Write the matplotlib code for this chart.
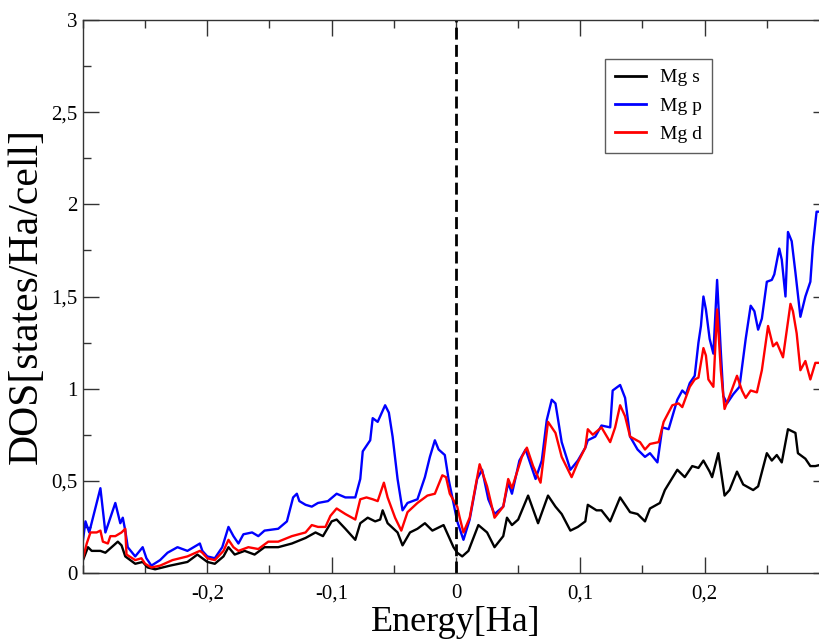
import numpy as np
import matplotlib
matplotlib.use('Agg')
import matplotlib.pyplot as plt
from matplotlib.ticker import MultipleLocator, FuncFormatter

plt.rcParams['font.family'] = ['Liberation Serif', 'DejaVu Serif']

# Mg s (black)
energy_s = [-0.300, -0.296, -0.293, -0.286, -0.282, -0.277, -0.272, -0.269, -0.266, -0.258,
            -0.252, -0.248, -0.242, -0.230, -0.216, -0.208, -0.204, -0.200, -0.194, -0.187,
            -0.183, -0.178, -0.170, -0.162, -0.154, -0.143, -0.132, -0.121, -0.113, -0.107,
            -0.100, -0.096, -0.089, -0.081, -0.077, -0.071, -0.065, -0.061, -0.059, -0.055,
            -0.047, -0.043, -0.037, -0.031, -0.025, -0.019, -0.010, -0.006, -0.002, 0.001,
            0.005, 0.010, 0.018, 0.025, 0.031, 0.038, 0.041, 0.045, 0.050, 0.058,
            0.066, 0.074, 0.080, 0.085, 0.092, 0.098, 0.104, 0.106, 0.113, 0.117,
            0.124, 0.132, 0.140, 0.146, 0.152, 0.156, 0.164, 0.168, 0.178, 0.184,
            0.190, 0.195, 0.199, 0.204, 0.206, 0.211, 0.216, 0.220, 0.226, 0.231,
            0.239, 0.243, 0.250, 0.254, 0.258, 0.262, 0.267, 0.273, 0.275, 0.281,
            0.285, 0.289, 0.295]
dos_s = [0.07, 0.14, 0.12, 0.12, 0.11, 0.14, 0.17, 0.15, 0.09, 0.05,
         0.06, 0.03, 0.02, 0.04, 0.06, 0.10, 0.08, 0.06, 0.05, 0.09,
         0.14, 0.10, 0.12, 0.10, 0.14, 0.14, 0.16, 0.19, 0.22, 0.20,
         0.28, 0.29, 0.24, 0.18, 0.27, 0.30, 0.28, 0.29, 0.34, 0.27,
         0.22, 0.15, 0.22, 0.24, 0.27, 0.23, 0.26, 0.20, 0.14, 0.11,
         0.09, 0.12, 0.26, 0.22, 0.14, 0.20, 0.30, 0.26, 0.29, 0.42,
         0.27, 0.42, 0.36, 0.32, 0.23, 0.25, 0.28, 0.37, 0.34, 0.34,
         0.28, 0.41, 0.33, 0.32, 0.28, 0.35, 0.38, 0.45, 0.56, 0.52,
         0.58, 0.57, 0.61, 0.55, 0.52, 0.65, 0.42, 0.45, 0.55, 0.48,
         0.45, 0.47, 0.65, 0.61, 0.64, 0.60, 0.78, 0.76, 0.65, 0.62,
         0.58, 0.58, 0.59]

# Mg p (blue)
energy_p = [-0.300, -0.298, -0.295, -0.286, -0.282, -0.274, -0.270, -0.268, -0.266, -0.264,
            -0.258, -0.252, -0.249, -0.245, -0.238, -0.232, -0.224, -0.216, -0.206, -0.204,
            -0.200, -0.194, -0.188, -0.183, -0.179, -0.175, -0.171, -0.164, -0.159, -0.154,
            -0.143, -0.136, -0.131, -0.128, -0.126, -0.121, -0.116, -0.111, -0.103, -0.096,
            -0.089, -0.081, -0.077, -0.075, -0.069, -0.067, -0.063, -0.057, -0.054, -0.051,
            -0.047, -0.043, -0.039, -0.031, -0.025, -0.021, -0.017, -0.014, -0.009, -0.006,
            -0.002, 0.001, 0.006, 0.011, 0.017, 0.021, 0.026, 0.031, 0.038, 0.042,
            0.045, 0.051, 0.056, 0.064, 0.069, 0.073, 0.077, 0.080, 0.085, 0.092,
            0.098, 0.104, 0.106, 0.112, 0.117, 0.124, 0.126, 0.132, 0.136, 0.140,
            0.146, 0.152, 0.156, 0.162, 0.166, 0.171, 0.178, 0.182, 0.185, 0.188,
            0.192, 0.195, 0.197, 0.199, 0.201, 0.204, 0.207, 0.210, 0.213, 0.215,
            0.218, 0.223, 0.228, 0.233, 0.237, 0.240, 0.243, 0.246, 0.250, 0.254,
            0.256, 0.260, 0.262, 0.265, 0.267, 0.270, 0.273, 0.277, 0.281, 0.285,
            0.287, 0.290, 0.295]
dos_p = [0.18, 0.28, 0.22, 0.46, 0.22, 0.38, 0.27, 0.30, 0.23, 0.14,
         0.09, 0.14, 0.08, 0.04, 0.07, 0.11, 0.14, 0.12, 0.16, 0.12,
         0.09, 0.08, 0.14, 0.25, 0.20, 0.16, 0.21, 0.22, 0.20, 0.23,
         0.24, 0.28, 0.41, 0.43, 0.39, 0.37, 0.36, 0.38, 0.39, 0.43,
         0.41, 0.41, 0.51, 0.66, 0.72, 0.84, 0.82, 0.91, 0.87, 0.74,
         0.51, 0.34, 0.38, 0.40, 0.52, 0.63, 0.72, 0.67, 0.64, 0.51,
         0.38, 0.28, 0.18, 0.29, 0.51, 0.56, 0.40, 0.32, 0.36, 0.49,
         0.43, 0.61, 0.67, 0.51, 0.61, 0.83, 0.94, 0.92, 0.71, 0.56,
         0.61, 0.68, 0.72, 0.74, 0.80, 0.79, 0.99, 1.02, 0.95, 0.74,
         0.67, 0.63, 0.65, 0.60, 0.79, 0.78, 0.94, 0.99, 0.97, 1.03,
         1.07, 1.25, 1.34, 1.50, 1.43, 1.27, 1.19, 1.59, 1.20, 0.96,
         0.92, 0.97, 1.01, 1.27, 1.45, 1.42, 1.32, 1.38, 1.58, 1.59,
         1.62, 1.76, 1.70, 1.50, 1.85, 1.80, 1.63, 1.39, 1.50, 1.58,
         1.77, 1.96, 1.96]

# Mg d (red)
energy_d = [-0.300, -0.297, -0.294, -0.289, -0.286, -0.284, -0.280, -0.278, -0.274, -0.269,
            -0.266, -0.265, -0.258, -0.253, -0.250, -0.245, -0.238, -0.228, -0.216, -0.206,
            -0.204, -0.200, -0.194, -0.187, -0.183, -0.179, -0.175, -0.167, -0.159, -0.151,
            -0.143, -0.132, -0.121, -0.116, -0.111, -0.105, -0.101, -0.096, -0.089, -0.081,
            -0.077, -0.072, -0.067, -0.063, -0.058, -0.055, -0.049, -0.044, -0.039, -0.031,
            -0.023, -0.017, -0.011, -0.008, -0.005, 0.001, 0.003, 0.006, 0.011, 0.019,
            0.025, 0.031, 0.038, 0.042, 0.045, 0.053, 0.057, 0.062, 0.068, 0.072,
            0.074, 0.080, 0.085, 0.093, 0.098, 0.104, 0.106, 0.110, 0.117, 0.124,
            0.128, 0.132, 0.136, 0.140, 0.148, 0.152, 0.156, 0.163, 0.167, 0.174,
            0.179, 0.182, 0.188, 0.192, 0.195, 0.197, 0.199, 0.201, 0.203, 0.207,
            0.210, 0.213, 0.216, 0.220, 0.226, 0.230, 0.233, 0.237, 0.242, 0.246,
            0.251, 0.255, 0.258, 0.263, 0.269, 0.271, 0.274, 0.277, 0.281, 0.285,
            0.289, 0.295]
dos_d = [0.08, 0.16, 0.22, 0.22, 0.23, 0.17, 0.16, 0.20, 0.20, 0.22,
         0.24, 0.10, 0.07, 0.08, 0.05, 0.03, 0.04, 0.07, 0.09, 0.12,
         0.11, 0.08, 0.07, 0.12, 0.18, 0.14, 0.12, 0.14, 0.13, 0.17,
         0.17, 0.20, 0.22, 0.26, 0.25, 0.25, 0.31, 0.35, 0.32, 0.29,
         0.40, 0.41, 0.40, 0.39, 0.49, 0.41, 0.30, 0.23, 0.33, 0.38,
         0.42, 0.43, 0.53, 0.52, 0.43, 0.36, 0.30, 0.22, 0.30, 0.59,
         0.47, 0.30, 0.36, 0.51, 0.46, 0.63, 0.68, 0.58, 0.49, 0.71,
         0.82, 0.76, 0.63, 0.52, 0.60, 0.68, 0.78, 0.75, 0.79, 0.71,
         0.79, 0.91, 0.85, 0.74, 0.71, 0.67, 0.70, 0.71, 0.82, 0.91,
         0.92, 0.90, 1.01, 1.05, 1.06, 1.14, 1.22, 1.18, 1.05, 1.01,
         1.43, 1.10, 0.89, 0.96, 1.07, 0.99, 0.95, 0.99, 0.98, 1.10,
         1.34, 1.23, 1.25, 1.17, 1.46, 1.42, 1.30, 1.10, 1.15, 1.05,
         1.14, 1.14]

series_labels = ['Mg s', 'Mg p', 'Mg d']
series_colors = ['black', 'blue', 'red']
fermi_level = 0.0

fig = plt.figure(figsize=(8.2, 6.42), dpi=100)
ax = fig.add_axes([83 / 820, 69 / 642, 746 / 820, 553 / 642])

for xs, ys, lab, col in zip([energy_s, energy_p, energy_d], [dos_s, dos_p, dos_d],
                            series_labels, series_colors):
    ax.plot(xs, ys, color=col, lw=1.7, label=lab)

ax.axvline(fermi_level, color='black', lw=2.0, linestyle=(0, (4.3, 1.9)))

ax.set_xlim(-0.3, 0.3)
ax.set_ylim(0, 3)

ax.xaxis.set_minor_locator(MultipleLocator(0.05))
ax.yaxis.set_major_locator(MultipleLocator(0.5))
ax.yaxis.set_minor_locator(MultipleLocator(0.25))
# -0,3 and 0,3 sit on the frame edges and are not labelled
ax.set_xticks([-0.2, -0.1, 0.0, 0.1, 0.2])

comma = FuncFormatter(lambda v, p: ('%g' % round(v, 3)).replace('.', ','))
ax.xaxis.set_major_formatter(comma)
ax.yaxis.set_major_formatter(comma)

ax.tick_params(which='both', direction='in', top=True, right=True, width=1.0, color='#333333')
ax.tick_params(which='major', length=11.5, labelsize=15)
ax.tick_params(axis='x', which='major', pad=8)
ax.tick_params(axis='y', which='major', pad=4)
ax.tick_params(which='minor', length=5.8)
for sp in ax.spines.values():
    sp.set_color('#333333')
    sp.set_linewidth(1.0)

ax.set_xlabel('Energy[Ha]', fontsize=26, labelpad=2)
ax.set_ylabel('DOS[states/Ha/cell]', fontsize=30, labelpad=4)

leg = ax.legend(loc='upper left', bbox_to_anchor=(605 / 820, 1 - 59 / 642),
                bbox_transform=fig.transFigure, fontsize=14, frameon=True,
                fancybox=False, handlelength=1.6, handletextpad=0.75,
                labelspacing=0.55, borderpad=0.5, borderaxespad=0)
leg.get_frame().set_edgecolor('#333333')
leg.get_frame().set_linewidth(1.0)
for ln in leg.get_lines():
    ln.set_linewidth(2.0)

plt.savefig('out.png', dpi=100)
